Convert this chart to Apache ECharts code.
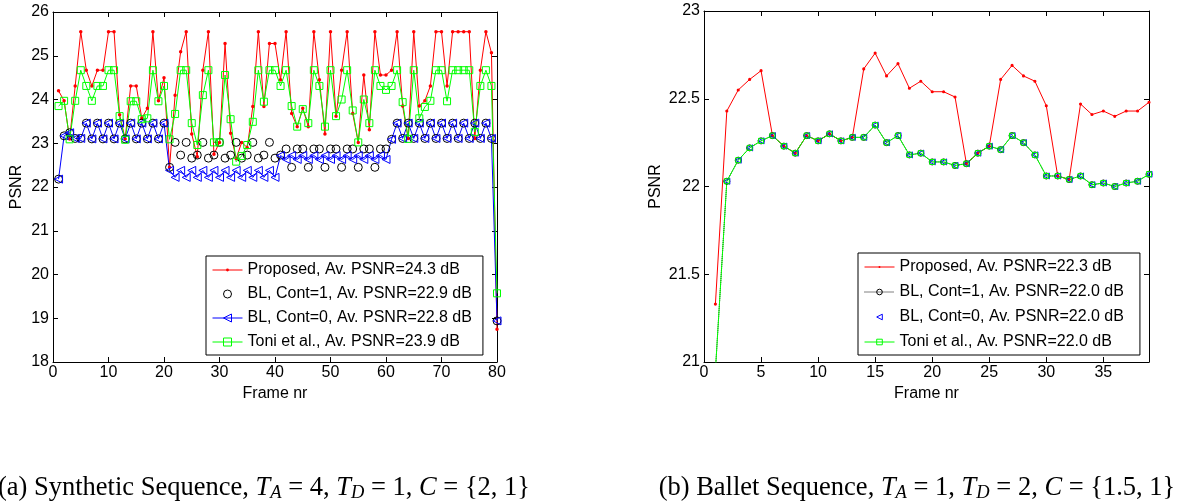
<!DOCTYPE html>
<html>
<head>
<meta charset="utf-8">
<script src="https://cdn.jsdelivr.net/npm/echarts@6/dist/echarts.min.js"></script>
<style>html,body{margin:0;padding:0;background:#fff}#c{width:1181px;height:502px}</style>
</head>
<body>
<div id="c"></div>
<script>
// ---------- (a) Synthetic sequence ----------
const framesA = [1,2,3,4,5,6,7,8,9,10,11,12,13,14,15,16,17,18,19,20,
  21,22,23,24,25,26,27,28,29,30,31,32,33,34,35,36,37,38,39,40,
  41,42,43,44,45,46,47,48,49,50,51,52,53,54,55,56,57,58,59,60,
  61,62,63,64,65,66,67,68,69,70,71,72,73,74,75,76,77,78,79,80];
const proposedA = [24.2,23.97,23.1,24.31,25.55,24.67,24.31,24.67,24.67,25.55,
  25.55,23.65,23.1,24.31,24.31,23.57,23.8,25.55,23.97,24.5,
  22.45,24.1,25.09,25.55,23.21,22.69,24.67,25.55,22.75,23.02,
  25.28,23.23,22.65,23.02,22.9,23.84,25.55,23.84,25.28,25.28,
  24.45,25.55,23.68,23.38,23.8,23.38,25.55,24.45,23.21,25.55,
  23.62,24.67,25.55,23.68,23.02,24.56,23.31,25.55,24.56,24.56,
  24.67,25.55,23.85,23.11,25.55,23.85,23.97,24.31,25.55,25.55,
  24.31,25.55,25.55,25.55,25.55,23.11,24.67,25.55,25.07,18.75];
const bl1A = [22.18,23.17,23.24,23.11,23.11,23.46,23.1,23.46,23.1,23.46,
  23.1,23.46,23.1,23.46,23.1,23.46,23.1,23.46,23.1,23.46,
  22.45,23.02,22.73,23.02,22.66,22.73,23.02,22.66,22.73,23.02,
  22.66,22.73,23.02,22.66,22.73,23.02,22.66,22.73,23.02,22.66,
  22.73,22.87,22.45,22.87,22.87,22.45,22.87,22.87,22.45,22.87,
  22.87,22.45,22.87,22.87,22.45,22.87,22.87,22.45,22.87,22.87,
  23.09,23.46,23.11,23.46,23.11,23.46,23.11,23.46,23.11,23.46,
  23.11,23.46,23.11,23.46,23.11,23.46,23.11,23.46,23.11,18.94];
const bl0A = [22.18,23.17,23.24,23.11,23.11,23.46,23.1,23.46,23.1,23.46,
  23.1,23.46,23.1,23.46,23.1,23.46,23.1,23.46,23.1,23.46,
  22.38,22.22,22.38,22.22,22.38,22.22,22.38,22.22,22.38,22.22,
  22.38,22.22,22.38,22.22,22.38,22.22,22.38,22.22,22.38,22.22,
  22.72,22.63,22.72,22.63,22.72,22.63,22.72,22.63,22.72,22.63,
  22.72,22.63,22.72,22.63,22.72,22.63,22.72,22.63,22.72,22.63,
  23.09,23.46,23.11,23.46,23.11,23.46,23.11,23.46,23.11,23.46,
  23.11,23.46,23.11,23.46,23.11,23.46,23.11,23.46,23.11,18.94];
const toniA = [23.85,23.97,23.09,23.97,24.67,24.31,23.97,24.31,24.31,24.67,
  24.67,23.62,23.08,23.96,23.96,23.55,23.57,24.67,23.96,24.31,
  23.09,23.67,24.67,24.67,23.46,22.96,24.1,24.67,23.02,23.02,
  24.56,23.55,22.58,22.71,22.96,23.49,24.67,23.95,24.67,24.67,
  24.31,24.67,23.85,23.38,23.78,23.46,24.67,24.31,23.38,24.67,
  23.62,24.0,24.67,23.75,23.02,24.0,23.46,24.67,24.31,24.22,
  24.31,24.67,23.94,23.1,24.67,23.57,23.83,23.97,24.67,24.67,
  23.96,24.67,24.67,24.67,24.67,23.26,24.31,24.67,24.31,19.57];
const namesA = ['Proposed, Av. PSNR=24.3 dB','BL, Cont=1, Av. PSNR=22.9 dB',
  'BL, Cont=0, Av. PSNR=22.8 dB','Toni et al., Av. PSNR=23.9 dB'];

// ---------- (b) Ballet sequence ----------
const framesB = [1,2,3,4,5,6,7,8,9,10,11,12,13,14,15,16,17,18,19,20,
  21,22,23,24,25,26,27,28,29,30,31,32,33,34,35,36,37,38,39];
const proposedB = [21.33,22.43,22.55,22.61,22.66,22.29,22.23,22.19,22.29,22.26,
  22.30,22.26,22.28,22.67,22.76,22.63,22.70,22.56,22.60,22.54,
  22.54,22.51,22.13,22.19,22.23,22.61,22.69,22.63,22.60,22.46,
  22.06,22.04,22.47,22.41,22.43,22.40,22.43,22.43,22.48];
const bl1B = [20.95,22.03,22.15,22.22,22.26,22.29,22.23,22.19,22.29,22.26,
  22.30,22.26,22.28,22.28,22.35,22.25,22.29,22.18,22.19,22.14,
  22.14,22.12,22.13,22.19,22.23,22.21,22.29,22.25,22.18,22.06,
  22.06,22.04,22.06,22.01,22.02,22.00,22.02,22.03,22.07];
const bl0B = [20.95,22.03,22.15,22.22,22.26,22.29,22.23,22.19,22.29,22.26,
  22.30,22.26,22.28,22.28,22.35,22.25,22.29,22.18,22.19,22.14,
  22.14,22.12,22.13,22.19,22.23,22.21,22.29,22.25,22.18,22.06,
  22.06,22.04,22.06,22.01,22.02,22.00,22.02,22.03,22.07];
const toniB = [20.95,22.03,22.15,22.22,22.26,22.29,22.23,22.19,22.29,22.26,
  22.30,22.26,22.28,22.28,22.35,22.25,22.29,22.18,22.19,22.14,
  22.14,22.12,22.13,22.19,22.23,22.21,22.29,22.25,22.18,22.06,
  22.06,22.04,22.06,22.01,22.02,22.00,22.02,22.03,22.07];
const namesB = ['Proposed, Av. PSNR=22.3 dB','BL, Cont=1, Av. PSNR=22.0 dB',
  'BL, Cont=0, Av. PSNR=22.0 dB','Toni et al., Av. PSNR=22.0 dB'];

// ---------- axis settings ----------
const xRangeA = [0, 80, 10];
const yRangeA = [18, 26, 1];
const xRangeB = [0, 39, 5];
const yRangeB = [21, 23, 0.5];

const captionA = '(a) Synthetic Sequence, {i|T}{s|A} = 4, {i|T}{s|D} = 1, {i|C} = {2, 1}';
const captionB = '(b) Ballet Sequence, {i|T}{s|A} = 1, {i|T}{s|D} = 2, {i|C} = {1.5, 1}';

const RED = '#ff0000', BLUE = '#0000ff', GREEN = '#00ff00', BLACK = '#000000';
const NOFILL = 'rgba(0,0,0,0)';
const DOT = 'path://M0,0h0.01v0.01h-0.01z M3.25,5a1.75,1.75 0 1,0 3.5,0a1.75,1.75 0 1,0 -3.5,0z M9.99,9.99h0.01v0.01h-0.01z';
const FONT = 'Liberation Sans';

function zip(xs, ys) { return xs.map((x, i) => [x, ys[i]]); }

function xAxisDef(grid, r, pos, withLabel, name) {
  return {
    type: 'value', gridIndex: grid, position: pos, min: r[0], max: r[1], interval: r[2],
    axisLine: {show: true, onZero: false, lineStyle: {color: BLACK, width: 1}},
    axisTick: {show: true, inside: true, length: 5, lineStyle: {color: BLACK}},
    axisLabel: {show: withLabel, margin: 3, color: BLACK, fontFamily: FONT, fontSize: 16,
      formatter: v => (Math.abs(v / r[2] - Math.round(v / r[2])) < 1e-9 ? String(v) : '')},
    splitLine: {show: false},
    name: name || '', nameLocation: 'middle', nameGap: 22,
    nameTextStyle: {color: BLACK, fontFamily: FONT, fontSize: 16}
  };
}
function yAxisDef(grid, r, pos, withLabel, name, gap) {
  return {
    type: 'value', gridIndex: grid, position: pos, min: r[0], max: r[1], interval: r[2],
    axisLine: {show: true, onZero: false, lineStyle: {color: BLACK, width: 1}},
    axisTick: {show: true, inside: true, length: 5, lineStyle: {color: BLACK}},
    axisLabel: {show: withLabel, margin: 4, color: BLACK, fontFamily: FONT, fontSize: 16},
    splitLine: {show: false},
    name: name || '', nameLocation: 'middle', nameGap: gap || 0,
    nameTextStyle: {color: BLACK, fontFamily: FONT, fontSize: 16}
  };
}

function lineSeries(name, xi, yi, data, opt) {
  return Object.assign({
    name: name, type: 'line', xAxisIndex: xi, yAxisIndex: yi, data: data,
    animation: false, emphasis: {disabled: true}, silent: true
  }, opt);
}

function legendDef(names, left, top, gap, itemH, styles, padR) {
  return {
    data: names.map((n, i) => Object.assign({name: n}, styles[i])),
    orient: 'vertical', left: left, top: top,
    padding: [6, padR, 5, 6], itemGap: gap, itemWidth: 30, itemHeight: itemH,
    borderColor: BLACK, borderWidth: 1, backgroundColor: '#fff', borderRadius: 0,
    selectedMode: false,
    textStyle: {fontFamily: FONT, fontSize: 16, color: BLACK, lineHeight: 14},
    lineStyle: {width: 1}, itemStyle: {borderWidth: 1}
  };
}

const legendStyles = [
  {itemStyle: {color: RED, borderColor: RED, borderWidth: 0}, lineStyle: {color: RED, width: 1, opacity: 1}},
  {itemStyle: {color: NOFILL, borderColor: BLACK, borderWidth: 1}, lineStyle: {color: BLACK, width: 1, opacity: 0}},
  {itemStyle: {color: NOFILL, borderColor: BLUE, borderWidth: 1}, lineStyle: {color: BLUE, width: 1, opacity: 1}},
  {itemStyle: {color: NOFILL, borderColor: GREEN, borderWidth: 1}, lineStyle: {color: GREEN, width: 1, opacity: 1}}
];
const legendStylesB = [
  {itemStyle: {color: RED, borderColor: RED, borderWidth: 0}, lineStyle: {color: RED, width: 1, opacity: 1}},
  {itemStyle: {color: NOFILL, borderColor: BLACK, borderWidth: 1}, lineStyle: {color: BLACK, width: 1, opacity: 1, type: 'dotted'}},
  {itemStyle: {color: NOFILL, borderColor: BLUE, borderWidth: 1}, lineStyle: {color: BLUE, width: 1, opacity: 0}},
  {itemStyle: {color: NOFILL, borderColor: GREEN, borderWidth: 1}, lineStyle: {color: GREEN, width: 1, opacity: 1}}
];

const capRich = {
  i: {fontFamily: 'Liberation Serif', fontSize: 26.5, fontStyle: 'italic', lineHeight: 30, color: BLACK},
  s: {fontFamily: 'Liberation Serif', fontSize: 18.5, fontStyle: 'italic', lineHeight: 18, verticalAlign: 'bottom', color: BLACK}
};

const option = {
  backgroundColor: '#fff',
  animation: false,
  grid: [
    {left: 53, top: 12, width: 444, height: 350, containLabel: false, outerBoundsMode: 'none'},
    {left: 704, top: 11, width: 445, height: 351, containLabel: false, outerBoundsMode: 'none'}
  ],
  xAxis: [
    xAxisDef(0, xRangeA, 'bottom', true, 'Frame nr'),
    xAxisDef(0, xRangeA, 'top', false),
    xAxisDef(1, xRangeB, 'bottom', true, 'Frame nr'),
    xAxisDef(1, xRangeB, 'top', false)
  ],
  yAxis: [
    yAxisDef(0, yRangeA, 'left', true, 'PSNR', 28),
    yAxisDef(0, yRangeA, 'right', false),
    yAxisDef(1, yRangeB, 'left', true, 'PSNR', 40),
    yAxisDef(1, yRangeB, 'right', false)
  ],
  legend: [
    legendDef(namesA, 206, 256, 8, 10, legendStyles, 11),
    legendDef(namesB, 858, 253, 9, 7, legendStylesB, 16)
  ],
  series: [
    lineSeries(namesA[0], 0, 0, zip(framesA, proposedA), {symbol: DOT, symbolSize: 10,
      lineStyle: {color: RED, width: 1}, itemStyle: {color: RED}}),
    lineSeries(namesA[1], 0, 0, zip(framesA, bl1A), {symbol: 'circle', symbolSize: 8,
      lineStyle: {color: BLACK, width: 1, opacity: 0}, itemStyle: {color: NOFILL, borderColor: BLACK, borderWidth: 1}}),
    lineSeries(namesA[2], 0, 0, zip(framesA, bl0A), {symbol: 'triangle', symbolRotate: 90, symbolSize: 8,
      lineStyle: {color: BLUE, width: 1}, itemStyle: {color: NOFILL, borderColor: BLUE, borderWidth: 1}}),
    lineSeries(namesA[3], 0, 0, zip(framesA, toniA), {symbol: 'rect', symbolSize: 7,
      lineStyle: {color: GREEN, width: 1}, itemStyle: {color: NOFILL, borderColor: GREEN, borderWidth: 1}}),

    lineSeries(namesB[0], 2, 2, zip(framesB, proposedB), {symbol: DOT, symbolSize: 9,
      lineStyle: {color: RED, width: 1}, itemStyle: {color: RED}}),
    lineSeries(namesB[1], 2, 2, zip(framesB, bl1B), {symbol: 'circle', symbolSize: 6,
      lineStyle: {color: BLACK, width: 1, type: 'dotted'}, itemStyle: {color: NOFILL, borderColor: BLACK, borderWidth: 1}}),
    lineSeries(namesB[2], 2, 2, zip(framesB, bl0B), {symbol: 'triangle', symbolRotate: 90, symbolSize: 6,
      lineStyle: {color: BLUE, width: 1, opacity: 0}, itemStyle: {color: NOFILL, borderColor: BLUE, borderWidth: 1}}),
    lineSeries(namesB[3], 2, 2, zip(framesB, toniB), {symbol: 'rect', symbolSize: 5,
      lineStyle: {color: GREEN, width: 1}, itemStyle: {color: NOFILL, borderColor: GREEN, borderWidth: 1}})
  ],
  graphic: [
    {type: 'text', x: 264, y: 488, silent: true, style: {text: captionA, fill: BLACK,
      fontFamily: 'Liberation Serif', fontSize: 26.5, lineHeight: 30, align: 'center', verticalAlign: 'middle', rich: capRich}},
    {type: 'text', x: 917, y: 488, silent: true, style: {text: captionB, fill: BLACK,
      fontFamily: 'Liberation Serif', fontSize: 26.5, lineHeight: 30, align: 'center', verticalAlign: 'middle', rich: capRich}}
  ]
};

const chart = echarts.init(document.getElementById('c'), null, {renderer: 'canvas'});
chart.setOption(option);
</script>
</body>
</html>
